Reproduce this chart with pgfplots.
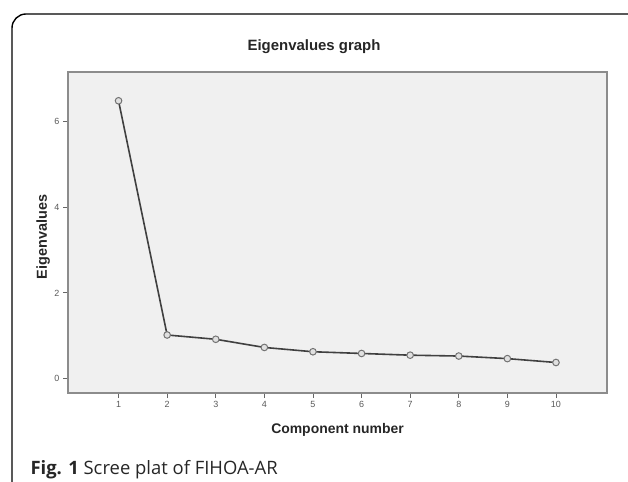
\documentclass[border=0pt]{standalone}
\usepackage{pgfplots}
\pgfplotsset{compat=1.18}
\usepackage{fontspec}
\setmainfont{Liberation Sans}
\newfontfamily\capfont{Open Sans}
\begin{document}
\begin{tikzpicture}
\path[use as bounding box] (0bp,0bp) rectangle (628bp,482bp);
\begin{scope}
\clip (0bp,0bp) rectangle (628bp,482bp);
\draw[black, line width=1.4bp, rounded corners=14bp] (12bp,468bp) rectangle (660bp,-30bp);
\end{scope}
\node[font=\fontsize{15}{17}\selectfont\bfseries, text=black!85] at (314bp,435bp) {Eigenvalues graph};
\begin{axis}[
  at={(68bp,89bp)}, anchor=south west,
  scale only axis, width=539bp, height=321bp,
  xmin=-0.04, xmax=11.05, ymin=-0.33, ymax=7.14,
  xtick={1,2,...,10}, ytick={0,2,4,6},
  tick pos=left, tick align=outside,
  major tick length=5bp,
  tick style={draw=black!60, line width=0.8bp},
  axis line style={draw=black!45, line width=1.8bp},
  axis background/.style={fill=black!6},
  /pgf/number format/assume math mode=true,
  ticklabel style={font=\fontsize{9}{10}\selectfont, text=black!65},
  xlabel={Component number},
  ylabel={Eigenvalues},
  xlabel style={font=\fontsize{14}{16}\selectfont\bfseries, text=black!85, at={(axis description cs:0.5,0)}, anchor=center, yshift=-37bp},
  ylabel style={font=\fontsize{14.5}{16}\selectfont\bfseries, text=black!85, at={(axis description cs:-0.046,0.486)}, anchor=center},
]
\addplot[color=black!75, line width=1.6bp, mark=*, mark size=3.3bp,
  mark options={draw=black!55, fill=black!12, line width=1bp}]
  coordinates {
  (1,6.47) (2,1.02) (3,0.92) (4,0.73) (5,0.63) (6,0.59) (7,0.55) (8,0.53) (9,0.47) (10,0.38)
  };
\end{axis}
\node[anchor=base west, font=\capfont\fontsize{18.5}{21}\selectfont, text=black!85] at (27bp,8bp) {\textbf{Fig. 1} Scree plat of FIHOA-AR};
\end{tikzpicture}
\end{document}
